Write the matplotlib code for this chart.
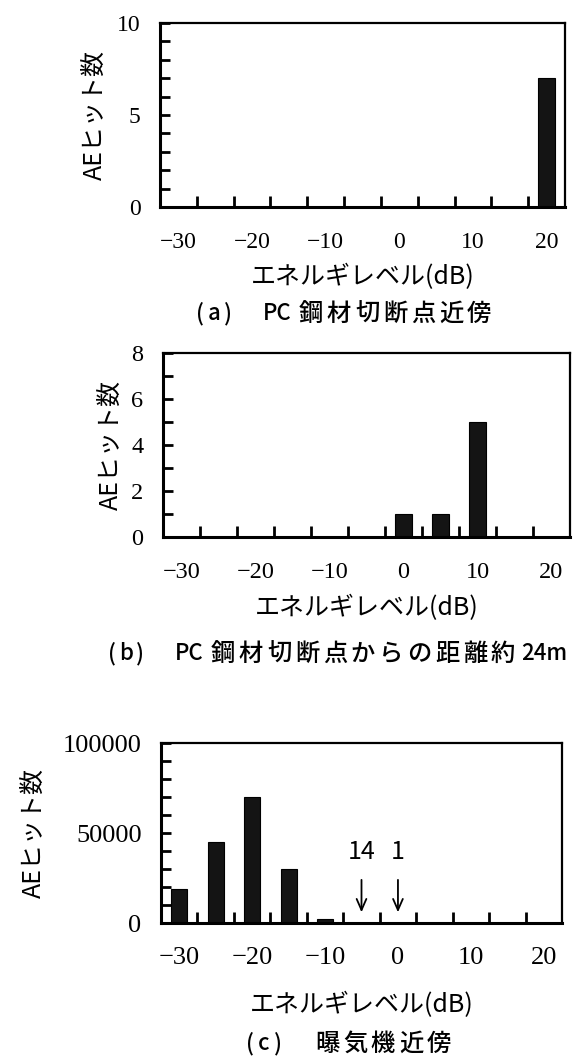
import unicodedata
import matplotlib
matplotlib.use('Agg')
import matplotlib.pyplot as plt
from matplotlib.ticker import MultipleLocator, FixedLocator, FuncFormatter

# ---------------- data ----------------
energy_levels = [-30, -25, -20, -15, -10, -5, 0, 5, 10, 15, 20]
x_label_levels = [-30, -20, -10, 0, 10, 20]
hits_a = [0, 0, 0, 0, 0, 0, 0, 0, 0, 0, 7]
hits_b = [0, 0, 0, 0, 0, 0, 1, 1, 5, 0, 0]
hits_c = [19000, 45000, 70000, 30000, 2500, 14, 1, 0, 0, 0, 0]
annot_levels_c = [-5, 0]
annot_texts_c = ['14', '1']

xlabel_text = 'エネルギレベル(dB)'
ylabel_text = 'AEヒット数'
captions = ['(a)　PC 鋼材切断点近傍',
            '(b)　PC 鋼材切断点からの距離約 24m',
            '(c)　曝気機近傍']

# ---------------- layout ----------------
W, H = 573, 1062
fig = plt.figure(figsize=(W / 100, H / 100), dpi=100)

CJK = ['Noto Sans CJK JP', 'DejaVu Sans']
NUM = ['Liberation Serif', 'DejaVu Serif']


def box(l, r, t, b):
    return [l / W, 1 - b / H, (r - l) / W, (b - t) / H]


def fx(x):
    return x / W


def fy(y):
    return 1 - y / H


def mono_text(x_start, cy, s, half=14, space=6, full_size=17.5, half_size=16, **kw):
    """Fixed-pitch layout like a Japanese gothic font: full-width chars in 2 cells.
    Runs of letters/digits are drawn as one piece centred on their cells."""
    # split into tokens
    tokens = []
    for ch in s:
        if ch.isascii() and ch.isalnum() and tokens and tokens[-1][0] == 'run':
            tokens[-1] = ('run', tokens[-1][1] + ch)
        elif ch.isascii() and ch.isalnum():
            tokens.append(('run', ch))
        else:
            tokens.append(('ch', ch))
    x = x_start
    for kind, t in tokens:
        if kind == 'run':
            wcell = half * len(t)
            fig.text(fx(x + wcell / 2), fy(cy), t, ha='center', va='center',
                     fontsize=half_size, **kw)
        else:
            is_full = unicodedata.east_asian_width(t) in ('W', 'F')
            wcell = space if t == ' ' else (2 * half if is_full else half)
            if t.strip() != '':
                fig.text(fx(x + wcell / 2), fy(cy), t, ha='center', va='center',
                         fontsize=full_size if is_full else half_size, **kw)
        x += wcell


panels = [
    dict(rect=box(160, 565, 23, 207), data=hits_a, ymax=10, major=5, minor=1,
         width=0.48, ylab_x=95, xlab_y=277, cap=(193, 314), tfs=17, pad=18),
    dict(rect=box(163, 570, 353, 537), data=hits_b, ymax=8, major=2, minor=1,
         width=0.46, ylab_x=111, xlab_y=608, cap=(105, 654), tfs=17.5, pad=18),
    dict(rect=box(161, 562, 743, 923), data=hits_c, ymax=100000, major=50000, minor=10000,
         width=0.44, ylab_x=34, xlab_y=1005, cap=(243, 1044), tfs=19, pad=17),
]

axes = []
for n, p in enumerate(panels):
    ax = fig.add_axes(p['rect'])
    axes.append(ax)
    pos = list(range(len(energy_levels)))
    ax.bar(pos, p['data'], width=p['width'], color='#141414', edgecolor='black', linewidth=0.8)
    ax.set_xlim(-0.5, len(energy_levels) - 0.5)
    ax.set_ylim(0, p['ymax'])

    # x: labels at categories, ticks at category boundaries
    lab_pos = [energy_levels.index(v) for v in x_label_levels]
    ax.xaxis.set_major_locator(FixedLocator(lab_pos))
    ax.set_xticklabels([str(v).replace('-', '−') for v in x_label_levels])
    ax.xaxis.set_minor_locator(FixedLocator([i + 0.5 for i in range(len(energy_levels) - 1)]))
    ax.tick_params(axis='x', which='major', length=0, pad=p['pad'])
    ax.tick_params(axis='x', which='minor', direction='in', length=8, width=2.0)

    ax.yaxis.set_major_locator(MultipleLocator(p['major']))
    ax.yaxis.set_minor_locator(MultipleLocator(p['minor']))
    ax.yaxis.set_major_formatter(FuncFormatter(lambda v, _: f'{int(v)}'))
    ax.tick_params(axis='y', which='both', direction='in', length=7, width=2.0, pad=14)

    for lab in ax.get_xticklabels() + ax.get_yticklabels():
        lab.set_family(NUM)
        lab.set_fontsize(p['tfs'])

    for s in ['left', 'bottom']:
        ax.spines[s].set_linewidth(2.2)
    for s in ['top', 'right']:
        ax.spines[s].set_linewidth(1.6)

    l, b, w, h = p['rect']
    fig.text(fx(p['ylab_x']), b + h / 2, ylabel_text, rotation=90, ha='center', va='center',
             family=CJK, fontsize=18)
    fig.text(l + w / 2, fy(p['xlab_y']), xlabel_text, ha='center', va='center',
             family=CJK, fontsize=18)
    mono_text(p['cap'][0], p['cap'][1], captions[n], family=CJK, fontweight='medium')

# annotations with arrows on panel (c)
axc = axes[2]
for lev, txt in zip(annot_levels_c, annot_texts_c):
    i = energy_levels.index(lev)
    axc.annotate('', xy=(i, 4400), xytext=(i, 25500),
                 arrowprops=dict(arrowstyle='->,head_length=0.8,head_width=0.35', color='black', lw=1.3))
    axc.text(i, 39400, txt, ha='center', va='center', family=CJK, fontsize=18)

fig.savefig('out.png', dpi=100)
